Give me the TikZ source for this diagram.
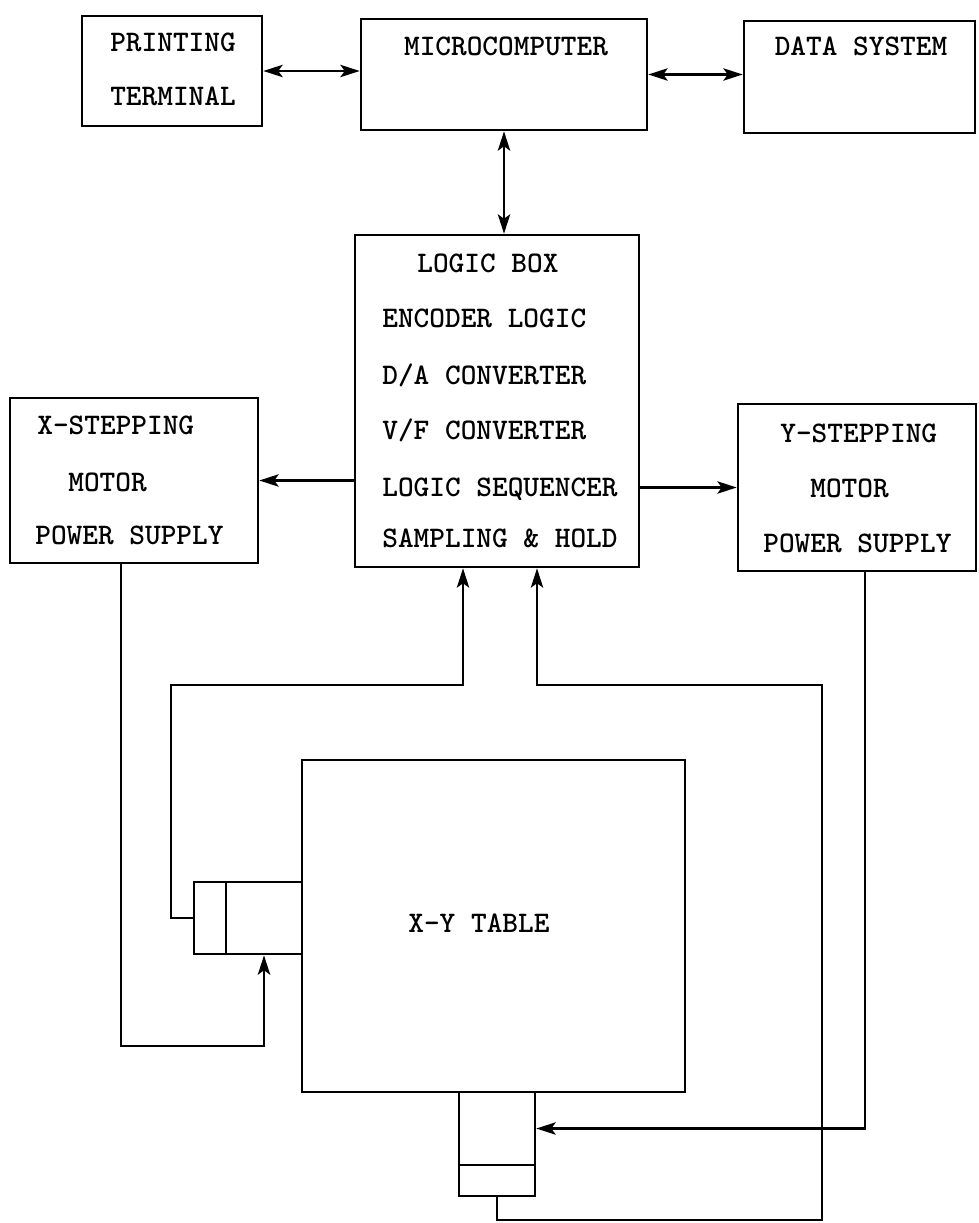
\documentclass[tikz,border=0pt]{standalone}
\usepackage{tikz}
\usetikzlibrary{arrows.meta, calc}
\tikzset{
    box line/.style={draw=black, line width=1.5pt, inner sep=0pt},
    sig line/.style={line width=1.5pt, draw=black,
      -{Stealth[length=11pt,width=7pt,inset=2.5pt]}},
    bus line/.style={line width=1.5pt, draw=black,
      {Stealth[length=11pt,width=7pt,inset=2.5pt]}-{Stealth[length=11pt,width=7pt,inset=2.5pt]}},
    lbl/.style={inner sep=0pt, anchor=base west,
      font=\fontsize{17}{20}\selectfont\ttfamily\bfseries}
}
\begin{document}
\begin{tikzpicture}[x=0.02cm, y=-0.02cm]
  \useasboundingbox (0,0) rectangle (978,1223);

  % top row
  \node[box line, minimum width=3.6cm, minimum height=2.2cm] (term) at (172,71) {};
  \node[box line, minimum width=5.72cm, minimum height=2.22cm] (micro) at (504,74.5) {};
  \node[box line, minimum width=4.62cm, minimum height=2.24cm] (data) at (859.5,77) {};
  \node[lbl, anchor=base] (termA) at (173,52) {PRINTING};
  \node[lbl, anchor=base] (termB) at (173,106) {TERMINAL};
  \node[lbl, anchor=base] (microA) at (506,56) {MICROCOMPUTER};
  \node[lbl, anchor=base] (dataA) at (861,56) {DATA SYSTEM};

  % logic box
  \node[box line, minimum width=5.68cm, minimum height=6.64cm] (logic) at (497,401) {};
  \node[lbl] (logA) at (417,272) {LOGIC BOX};
  \node[lbl] (logB) at (382,327) {ENCODER LOGIC};
  \node[lbl] (logC) at (382,384) {D/A CONVERTER};
  \node[lbl] (logD) at (382,439) {V/F CONVERTER};
  \node[lbl] (logE) at (382,496) {LOGIC SEQUENCER};
  \node[lbl] (logF) at (382,547) {SAMPLING \& HOLD};

  % stepping motor supplies
  \node[box line, minimum width=4.96cm, minimum height=3.3cm] (xmot) at (134,480.5) {};
  \node[lbl] (xmotA) at (37,434) {X-STEPPING};
  \node[lbl] (xmotB) at (68,491) {MOTOR};
  \node[lbl] (xmotC) at (35,544) {POWER SUPPLY};
  \node[box line, minimum width=4.76cm, minimum height=3.34cm] (ymot) at (857,487.5) {};
  \node[lbl] (ymotA) at (780,442) {Y-STEPPING};
  \node[lbl] (ymotB) at (810,497) {MOTOR};
  \node[lbl] (ymotC) at (763,552) {POWER SUPPLY};

  % table and motors
  \node[box line, minimum width=7.66cm, minimum height=6.64cm] (table) at (493.5,926) {};
  \node[lbl] (tableA) at (408,932) {X-Y TABLE};
  \node[box line, minimum width=0.64cm, minimum height=1.44cm] (xcap) at (210,918) {};
  \node[box line, minimum width=1.52cm, minimum height=1.44cm] (xbody) at (264,918) {};
  \node[box line, minimum width=1.52cm, minimum height=1.46cm] (ybody) at (497,1128.5) {};
  \node[box line, minimum width=1.52cm, minimum height=0.62cm] (ycap) at (497,1180.5) {};

  % links
  \draw[bus line] (term.east) -- (term.east -| micro.west);
  \draw[bus line] (micro.east) -- (micro.east -| data.west);
  \draw[bus line] (micro.south) -- (micro.south |- logic.north);
  \draw[sig line] (logic.west |- xmot.east) -- (xmot.east);
  \draw[sig line] (logic.east |- ymot.west) -- (ymot.west);

  % motor drive lines
  \coordinate (xret) at (121,1046);
  \coordinate (yret) at (865,1130);
  \draw[sig line] (xmot.south -| xret) -- (xret) -| (xbody.south);
  \draw[sig line] (ymot.south -| yret) -- (yret |- ybody.east) -- (ybody.east);

  % feedback to logic box
  \coordinate (lbend) at (171,685);
  \coordinate (rbend) at (822,1220);
  \draw[sig line] (xcap.west) -| (lbend) -| ($(logic.south)+(-34,0)$);
  \draw[sig line] (ycap.south) |- (rbend) -- (rbend |- lbend)
    -| ($(logic.south)+(40,0)$);

\end{tikzpicture}
\end{document}
